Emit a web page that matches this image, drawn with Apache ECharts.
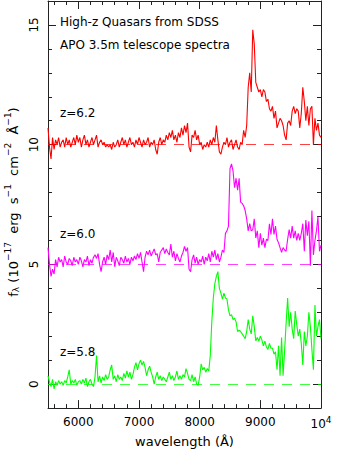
<!DOCTYPE html>
<html><head><meta charset="utf-8">
<script src="https://cdn.jsdelivr.net/npm/echarts@6/dist/echarts.min.js"></script>
<style>html,body{margin:0;padding:0;background:#fff}#c{width:357px;height:453px}</style>
</head><body><div id="c"></div>
<script>
// Observed wavelength grid (Angstrom)
const wavelength = [
 5500,5525,5550,5575,5600,5625,5650,5675,5700,5725,5750,5775,5800,5825,5850,5875,5900,5925,5950,5975,
 6000,6025,6050,6075,6100,6125,6150,6175,6200,6225,6250,6275,6300,6325,6350,6375,6400,6425,6450,6475,
 6500,6525,6550,6575,6600,6625,6650,6675,6700,6725,6750,6775,6800,6825,6850,6875,6900,6925,6950,6975,
 7000,7025,7050,7075,7100,7125,7150,7175,7200,7225,7250,7275,7300,7325,7350,7375,7400,7425,7450,7475,
 7500,7525,7550,7575,7600,7625,7650,7675,7700,7725,7750,7775,7800,7825,7850,7875,7900,7925,7950,7975,
 8000,8025,8050,8075,8100,8125,8150,8175,8200,8225,8250,8275,8300,8325,8350,8375,8400,8425,8450,8475,
 8500,8525,8550,8575,8600,8625,8650,8675,8700,8725,8750,8775,8800,8825,8850,8875,8900,8925,8950,8975,
 9000,9025,9050,9075,9100,9125,9150,9175,9200,9225,9250,9275,9300,9325,9350,9375,9400,9425,9450,9475,
 9500,9525,9550,9575,9600,9625,9650,9675,9700,9725,9750,9775,9800,9825,9850,9875,9900,9925,9950,9975,
 10000
];
// z=6.2 spectrum (offset +10)
const fluxZ62 = [
 10.7,9.9,9.4,10.3,9.8,10.2,10.0,10.3,9.9,10.1,10.2,9.9,10.3,10.0,10.2,9.9,10.1,10.3,10.0,10.4,
 10.1,10.3,9.9,10.2,10.4,10.0,10.2,9.9,10.1,10.3,10.0,10.2,10.4,9.9,10.1,10.2,10.0,10.1,9.9,10.0,
 9.9,10.0,9.8,10.1,9.9,10.0,10.2,9.9,10.1,10.3,10.0,10.2,9.9,10.1,10.3,10.0,10.1,9.9,10.2,10.0,
 10.3,10.1,9.9,10.2,10.0,10.1,10.3,9.9,10.1,10.0,10.2,9.8,9.6,10.1,10.3,10.0,10.2,10.1,10.4,10.2,
 10.5,10.3,10.6,10.2,10.4,10.1,10.5,10.3,10.7,10.4,10.8,10.5,10.9,9.9,9.7,10.4,10.3,10.6,10.2,10.4,
 10.0,10.1,9.8,10.0,9.9,10.1,9.9,10.2,10.0,10.3,10.1,10.8,10.2,9.7,9.6,9.9,10.1,10.0,10.3,9.9,
 10.1,10.2,9.8,10.0,10.2,9.9,9.8,10.1,10.0,10.6,10.3,10.8,12.4,13.0,12.2,14.8,14.2,12.6,12.4,12.2,
 12.3,12.0,12.3,12.2,11.8,11.9,11.5,11.4,11.6,11.1,11.4,10.7,10.9,11.1,11.0,10.8,10.4,10.2,10.9,11.0,
 10.8,11.4,11.6,11.3,11.5,11.4,10.7,11.3,12.4,11.8,11.0,11.6,10.8,11.5,11.6,10.0,11.1,10.6,10.9,10.4,
 10.3
];
// z=6.0 spectrum (offset +5)
const fluxZ60 = [
 5.7,5.0,4.5,4.8,4.6,5.2,4.9,5.3,5.1,5.2,4.9,5.35,5.1,5.0,5.25,5.15,4.95,5.3,5.1,5.2,
 5.0,5.3,5.15,4.9,5.2,5.1,5.35,4.95,5.2,5.05,5.3,5.4,5.25,5.45,5.0,4.7,5.1,5.3,5.0,5.4,
 5.2,5.6,5.1,5.5,4.9,5.3,5.15,4.95,5.3,5.2,5.05,5.35,5.1,5.25,5.0,5.3,5.15,5.35,5.2,5.45,
 5.25,5.5,5.1,4.7,5.3,5.55,5.4,5.6,5.35,5.5,5.65,5.4,5.45,5.1,5.5,5.6,5.7,5.45,5.65,5.5,
 5.4,5.85,5.3,5.55,5.15,5.45,5.25,5.1,5.35,5.5,5.75,5.55,5.7,4.8,4.7,5.2,5.4,5.05,5.3,5.0,
 5.2,5.1,5.35,5.0,5.3,5.15,5.45,5.1,5.55,5.3,5.6,5.2,5.45,5.1,5.3,5.6,5.5,6.3,6.4,6.6,
 9.0,9.2,8.9,8.2,8.6,8.1,8.6,7.6,7.55,7.45,7.25,6.9,6.4,6.7,6.4,6.45,6.9,6.1,6.4,5.7,
 6.3,5.8,6.1,5.7,6.05,6.0,6.7,6.25,6.9,6.25,6.6,6.05,5.9,5.7,5.5,5.7,5.6,5.55,6.05,6.45,
 6.1,6.6,6.1,6.4,6.0,6.3,6.0,6.3,6.7,5.55,6.85,6.2,6.8,4.95,7.25,5.4,6.0,6.4,7.0,5.55,
 5.8
];
// z=5.8 spectrum (offset 0)
const fluxZ58 = [
 0.35,0.1,-0.1,0.2,-0.2,0.1,-0.05,0.15,0.0,0.1,-0.05,0.15,0.05,0.3,0.6,0.0,0.15,0.05,0.2,-0.05,
 0.1,0.15,0.0,0.2,0.05,0.25,-0.1,0.1,0.2,0.0,-0.1,0.3,1.2,0.1,0.35,0.05,0.3,0.15,0.4,0.2,
 0.3,0.6,0.8,0.2,0.35,0.1,0.4,0.2,0.3,0.15,0.45,0.25,0.55,0.3,0.5,0.2,0.4,0.7,0.9,0.6,
 0.85,1.0,0.8,0.95,0.7,0.35,0.6,0.75,0.5,0.3,0.0,0.3,0.5,0.2,0.35,0.15,0.3,0.2,0.1,0.3,
 0.5,0.2,0.35,0.15,0.3,0.55,0.2,0.35,0.2,0.4,0.3,0.65,0.45,0.2,0.15,0.4,0.1,0.3,0.0,-0.05,
 0.3,0.85,0.6,0.7,0.5,0.65,0.55,1.2,2.6,3.6,4.2,4.5,4.7,4.0,3.8,3.55,3.8,3.6,3.55,3.1,
 2.85,2.9,2.7,2.75,2.6,2.2,2.25,2.2,2.1,2.0,1.9,2.2,2.7,2.3,2.1,2.85,2.4,1.8,1.95,1.8,
 2.0,1.85,1.6,1.8,1.55,1.45,1.7,1.5,1.5,1.25,1.35,0.6,1.6,0.35,1.95,0.35,1.4,2.55,3.6,2.4,
 3.0,2.3,1.9,3.05,2.5,2.0,2.3,1.7,0.8,2.2,1.6,2.0,3.0,2.4,1.45,0.6,3.3,2.0,2.4,2.7,
 1.9
];
const seriesNames = ['z=6.2', 'z=6.0', 'z=5.8'];
const seriesFlux = [fluxZ62, fluxZ60, fluxZ58];
const baselines = [10, 5, 0];
const colors = ['#ff0000', '#ff00ff', '#00ff00'];
const xMajorTicks = [6000, 7000, 8000, 9000, 10000];
const xMinorTicks = [5600,5800,6200,6400,6600,6800,7200,7400,7600,7800,8200,8400,8600,8800,9200,9400,9600,9800];
const yMajorTicks = [0, 5, 10, 15];
const yMinorTicks = [-1,1,2,3,4,6,7,8,9,11,12,13,14,16];
const titleLines = ['High-z Quasars from SDSS', 'APO 3.5m telescope spectra'];

const FONT = 'DejaVu Sans';
const AX = '#222';
const chart = echarts.init(document.getElementById('c'), null, {renderer: 'svg'});

function xAxisDef(position, ticks, len, showLine, showLabel) {
  return {
    type: 'value', position, min: 5500, max: 10000, gridIndex: 0,
    axisLine: {show: showLine, onZero: false, lineStyle: {color: AX, width: 1}},
    axisTick: {show: true, inside: true, length: len, customValues: ticks, lineStyle: {color: AX, width: 1}},
    axisLabel: showLabel ? {
      show: true, customValues: ticks, margin: 7, color: '#000',
      fontFamily: FONT, fontSize: 12,
      formatter: v => v === 10000 ? '{n|10}{sup|4}' : '{n|' + v + '}',
      rich: {
        n: {fontFamily: FONT, fontSize: 12, color: '#000', lineHeight: 14},
        sup: {fontFamily: FONT, fontSize: 9, color: '#000', padding: [0, 0, 9, 0]}
      }
    } : {show: false},
    splitLine: {show: false}
  };
}
function yAxisDef(position, ticks, len, showLine, showLabel) {
  return {
    type: 'value', position, min: -1, max: 16, gridIndex: 0,
    axisLine: {show: showLine, onZero: false, lineStyle: {color: AX, width: 1}},
    axisTick: {show: true, inside: true, length: len, customValues: ticks, lineStyle: {color: AX, width: 1}},
    axisLabel: showLabel ? {
      show: true, customValues: ticks, rotate: 90, margin: 8, color: '#000',
      fontFamily: FONT, fontSize: 12
    } : {show: false},
    splitLine: {show: false}
  };
}

const xAxes = [
  Object.assign(xAxisDef('bottom', xMajorTicks, 8, true, true), {
    name: 'wavelength (Å)', nameLocation: 'middle', nameGap: 22,
    nameTextStyle: {fontFamily: FONT, fontSize: 13, color: '#000'}
  }),
  xAxisDef('bottom', xMinorTicks, 4, false, false),
  xAxisDef('top', xMajorTicks, 8, true, false),
  xAxisDef('top', xMinorTicks, 4, false, false)
];
const yAxes = [
  yAxisDef('left', yMajorTicks, 8, true, true),
  yAxisDef('left', yMinorTicks, 4, false, false),
  yAxisDef('right', yMajorTicks, 8, true, false),
  yAxisDef('right', yMinorTicks, 4, false, false)
];

const series = seriesNames.map((name, k) => ({
  name, type: 'line', xAxisIndex: 0, yAxisIndex: 0,
  data: wavelength.map((w, i) => [w, seriesFlux[k][i]]),
  showSymbol: false, symbol: 'none', animation: false,
  lineStyle: {color: colors[k], width: 1.1},
  itemStyle: {color: colors[k]},
  markLine: {
    silent: true, symbol: ['none', 'none'], animation: false,
    label: {show: false},
    lineStyle: {color: colors[k], type: [10, 8], width: 1, opacity: 0.75},
    data: [{yAxis: baselines[k]}]
  }
}));

const labelY = [113, 234, 352];
const graphics = [
  {type: 'text', x: 60, y: 22, style: {text: titleLines[0], fill: '#000', font: '12px "' + FONT + '"', verticalAlign: 'middle'}},
  {type: 'text', x: 60, y: 45, style: {text: titleLines[1], fill: '#000', font: '12px "' + FONT + '"', verticalAlign: 'middle'}}
].concat(seriesNames.map((n, k) => ({
  type: 'text', x: 60, y: labelY[k], style: {text: n, fill: '#000', font: '12px "' + FONT + '"', verticalAlign: 'middle'}
}))).concat([{
  type: 'text', x: 13, y: 202, rotation: Math.PI / 2,
  style: {
    text: '{n|f}{sub|λ}{n| (10}{sup|−17}{n|  erg  s}{sup|−1}{n|  cm}{sup|−2}{n|  Å}{sup|−1}{n|)}',
    align: 'center', verticalAlign: 'middle', fill: '#000',
    rich: {
      n: {fontFamily: FONT, fontSize: 13, fill: '#000', color: '#000'},
      sup: {fontFamily: FONT, fontSize: 9, fill: '#000', color: '#000', padding: [0, 0, 10, 0]},
      sub: {fontFamily: FONT, fontSize: 9, fill: '#000', color: '#000', padding: [6, 0, 0, 0]}
    }
  }
}]);

chart.setOption({
  animation: false,
  backgroundColor: '#fff',
  grid: {left: 48, right: 36, top: 1, bottom: 44, containLabel: false},
  xAxis: xAxes,
  yAxis: yAxes,
  series,
  graphic: graphics
});
</script></body></html>
